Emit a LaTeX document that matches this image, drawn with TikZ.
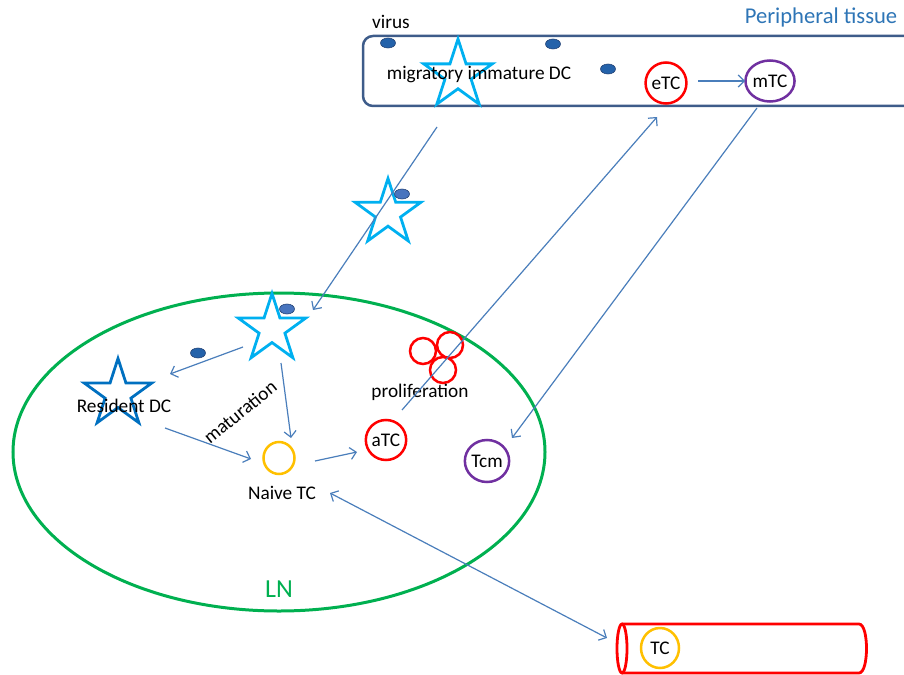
\documentclass[tikz,border=0pt]{standalone}
\usepackage{fontspec}
\setmainfont{Carlito}
\usetikzlibrary{shapes.geometric,arrows.meta}
\definecolor{arrblue}{RGB}{74,126,187}
\definecolor{rectc}{RGB}{62,92,138}
\definecolor{pblue}{RGB}{46,117,182}
\definecolor{cyanstar}{RGB}{0,176,240}
\definecolor{resstar}{RGB}{0,112,192}
\definecolor{dotdark}{RGB}{36,98,170}
\definecolor{dotlight}{RGB}{72,116,190}
\definecolor{dotline}{RGB}{40,70,120}
\definecolor{lngreen}{RGB}{0,176,80}
\definecolor{orangec}{RGB}{255,192,0}
\definecolor{redc}{RGB}{255,0,0}
\definecolor{purplec}{RGB}{112,48,160}
\begin{document}
\begin{tikzpicture}[x=1pt,y=-1pt,
  lbl/.style={font=\fontsize{19.3}{23}\selectfont, inner sep=0pt},
  arr/.style={draw=arrblue, line width=1.2pt, -{Straight Barb[length=6pt,width=12pt]}},
  dblarr/.style={draw=arrblue, line width=1.2pt, {Straight Barb[length=6pt,width=12pt]}-{Straight Barb[length=6pt,width=12pt]}},
  dcstar/.style={star, star points=5, star point ratio=2.618, minimum size=71pt, inner sep=0pt, draw=cyanstar, line width=2.8pt},
  cell/.style={ellipse, draw, line width=2.5pt, minimum width=37pt, minimum height=41pt, inner sep=0pt, font=\fontsize{19.3}{23}\selectfont},
  virusdot/.style={ellipse, draw=dotline, fill=dotdark, line width=0.6pt, minimum width=15pt, minimum height=10pt, inner sep=0pt},
  lightdot/.style={virusdot, fill=dotlight}
]
\useasboundingbox (0,0) rectangle (904,674);

% LN
\node[ellipse, draw=lngreen, line width=3pt, minimum width=532pt, minimum height=318pt, inner sep=0pt] (ln) at (279,452) {};
\node[font=\fontsize{26}{30}\selectfont, text=lngreen, inner sep=0pt] (lnlbl) at (279,589) {LN};

% Peripheral tissue
\node[draw=rectc, line width=2.5pt, rounded corners=10pt, minimum width=567pt, minimum height=70pt, inner sep=0pt] (tissue) at (646.5,71) {};
\node[font=\fontsize{22.6}{27}\selectfont, text=pblue, inner sep=0pt] (ptlbl) at (821,17) {Peripheral tissue};
\node[lbl] (virus) at (391,22) {virus};
\node[virusdot] (v1) at (388,43) {};
\node[virusdot] (v2) at (553,44) {};
\node[virusdot] (v3) at (608,69) {};
\node[dcstar, minimum size=72pt] (s1) at (458,75) {};
\node[lbl] (midc) at (479,75) {migratory immature DC};
\node[cell, draw=redc] (etc) at (666,83) {eTC};
\node[cell, draw=purplec] (mtc) at (770,81) {mTC};

% migrating DC
\node[dcstar, minimum size=69pt] (s2) at (388,213) {};
\node[lightdot] (v4) at (402,194) {};

% LN content
\node[dcstar] (s3) at (272,329) {};
\node[lightdot] (v5) at (287,309) {};
\node[virusdot] (v6) at (198,353) {};
\node[dcstar, draw=resstar] (s4) at (118,394) {};
\node[lbl] (reslbl) at (124,406) {Resident DC};
\node[lbl, rotate=39] (mat) at (240,412) {maturation};
\node[cell, draw=orangec, minimum width=31pt, minimum height=32pt] (naive) at (279,458) {};
\node[lbl] (naivelbl) at (282,493) {Naive TC};
\node[cell, draw=redc, minimum width=35pt, minimum height=40pt] (atc) at (386,440) {aTC};
\node[cell, draw=redc, minimum width=26pt, minimum height=26pt] (p1) at (423,351) {};
\node[cell, draw=redc, minimum width=26pt, minimum height=26pt] (p2) at (450,345) {};
\node[cell, draw=redc, minimum width=26pt, minimum height=26pt] (p3) at (443,370) {};
\node[lbl] (prolbl) at (420,392) {proliferation};
\node[cell, draw=purplec, minimum width=37pt, minimum height=42pt] (tcm) at (487,461) {Tcm};

% vessel
\draw[redc, line width=2.8pt] (622,624) -- (859,624) .. controls (869,624) and (869,673) .. (859,673) -- (622,673);
\draw[redc, line width=2.8pt] (622,648.5) ellipse [x radius=5pt, y radius=24.5pt];
\node[cell, draw=orangec, minimum width=38pt, minimum height=40pt] (tc) at (660,648) {TC};

% connector end points
\coordinate (a1s) at (437,127); \coordinate (a1e) at (313,310);
\coordinate (a2s) at (243,347); \coordinate (a2e) at (170,374);
\coordinate (a3s) at (281,363); \coordinate (a3e) at (291,438);
\coordinate (a4s) at (165,428); \coordinate (a4e) at (251,459);
\coordinate (a5s) at (315,461); \coordinate (a5e) at (357,452);
\coordinate (a6s) at (402,410); \coordinate (a6e) at (657,117);
\coordinate (a7s) at (757,108); \coordinate (a7e) at (512,438);
\coordinate (a8s) at (698,81);  \coordinate (a8e) at (745,81);
\coordinate (a9s) at (330,493); \coordinate (a9e) at (607,638);

\draw[arr] (a1s) -- (a1e);
\draw[arr] (a2s) -- (a2e);
\draw[arr] (a3s) -- (a3e);
\draw[arr] (a4s) -- (a4e);
\draw[arr] (a5s) -- (a5e);
\draw[arr] (a6s) -- (a6e);
\draw[arr] (a7s) -- (a7e);
\draw[arr] (a8s) -- (a8e);
\draw[dblarr] (a9s) -- (a9e);
\end{tikzpicture}
\end{document}
